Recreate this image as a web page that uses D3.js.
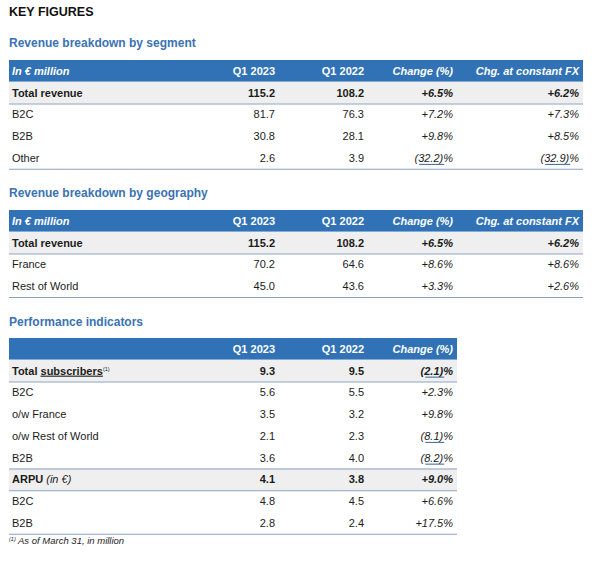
<!DOCTYPE html>
<html>
<head>
<meta charset="utf-8">
<script src="https://cdn.jsdelivr.net/npm/d3@7"></script>
<style>
  html, body { margin: 0; padding: 0; background: #fff; }
  svg { display: block; font-family: "Liberation Sans", Arial, Helvetica, sans-serif; }
</style>
</head>
<body>
<svg id="chart" width="594" height="565"></svg>
<script>
// ---------- DATA ----------
const pageTitle = "KEY FIGURES";
const sectionTitles = ["Revenue breakdown by segment", "Revenue breakdown by geography", "Performance indicators"];
const columnHeaders = ["In € million", "Q1 2023", "Q1 2022", "Change (%)", "Chg. at constant FX"];
const kpiColumnHeaders = ["", "Q1 2023", "Q1 2022", "Change (%)"];

const segCategories = ["Total revenue", "B2C", "B2B", "Other"];
const segQ12023 = [115.2, 81.7, 30.8, 2.6];
const segQ12022 = [108.2, 76.3, 28.1, 3.9];
const segChange = [6.5, 7.2, 9.8, -32.2];
const segChangeFX = [6.2, 7.3, 8.5, -32.9];

const geoCategories = ["Total revenue", "France", "Rest of World"];
const geoQ12023 = [115.2, 70.2, 45.0];
const geoQ12022 = [108.2, 64.6, 43.6];
const geoChange = [6.5, 8.6, 3.3];
const geoChangeFX = [6.2, 8.6, 2.6];

const kpiCategories = ["Total subscribers", "B2C", "o/w France", "o/w Rest of World", "B2B", "ARPU", "B2C", "B2B"];
const kpiQ12023 = [9.3, 5.6, 3.5, 2.1, 3.6, 4.1, 4.8, 2.8];
const kpiQ12022 = [9.5, 5.5, 3.2, 2.3, 4.0, 3.8, 4.5, 2.4];
const kpiChange = [-2.1, 2.3, 9.8, -8.1, -8.2, 9.0, 6.6, 17.5];
const kpiHighlight = [true, false, false, false, false, true, false, false];
const footnote = "As of March 31, in million";

// ---------- STYLE ----------
const HEADER_BLUE = "#3171b6";
const TITLE_BLUE = "#3a72b3";
const GRAY = "#efefef";
const LINE = "#8aa2bf";
const TEXT = "#1b1b1b";
const UNDER = "#35639a";
const FS = 11;

const svg = d3.select("#chart");
const fmtNum = d3.format(".1f");

svg.append("text").attr("x", 9).attr("y", 15.5)
  .attr("font-size", 12.5).attr("font-weight", "bold").attr("fill", "#111")
  .text(pageTitle);

function pctParts(v) {
  if (v < 0) return { pre: "(", num: fmtNum(-v), post: ")%", neg: true };
  return { pre: "+", num: fmtNum(v), post: "%", neg: false };
}

function drawPct(g, x, y, v, bold) {
  const p = pctParts(v);
  const t = g.append("text").attr("x", x).attr("y", y).attr("text-anchor", "end")
    .attr("font-size", FS).attr("font-style", "italic")
    .attr("font-weight", bold ? "bold" : "normal").attr("fill", TEXT)
    .text(p.pre + p.num + p.post);
  if (p.neg) {
    const node = t.node();
    const bb = node.getBBox();
    const s0 = node.getSubStringLength(0, 1);
    const s1 = node.getSubStringLength(1, p.num.length + 1);
    g.append("line")
      .attr("x1", bb.x + s0 + 1).attr("x2", bb.x + s0 + s1 + 1)
      .attr("y1", y + 2.5).attr("y2", y + 2.5)
      .attr("stroke", UNDER).attr("stroke-width", 1);
  }
}

function drawTable(cfg) {
  const g = svg.append("g");
  g.append("text").attr("x", 9).attr("y", cfg.titleY + 4)
    .attr("font-size", 12).attr("font-weight", "bold").attr("fill", TITLE_BLUE)
    .text(cfg.title);

  const n = cfg.categories.length;
  const y = d3.scaleBand().domain(d3.range(n + 1))
    .range([cfg.top, cfg.top + (n + 1) * 21.75]).paddingInner(0).paddingOuter(0);
  const cols = cfg.headers.map((d, i) => i);
  const x = d3.scaleOrdinal().domain(cols).range(cfg.colRight);
  const left = 9, right = cfg.right;

  g.append("rect").attr("x", left).attr("y", y(0)).attr("width", right - left).attr("height", y.bandwidth())
    .attr("fill", HEADER_BLUE);
  cfg.headers.forEach((h, i) => {
    const italic = i === 0 || i >= 3;
    g.append("text")
      .attr("x", i === 0 ? 12 : x(i)).attr("y", y(0) + y.bandwidth() / 2 + 4)
      .attr("text-anchor", i === 0 ? "start" : "end")
      .attr("font-size", FS).attr("font-weight", "bold")
      .attr("font-style", italic ? "italic" : "normal").attr("fill", "#fff")
      .text(h);
  });

  cfg.categories.forEach((c, r) => {
    const ry = y(r + 1);
    if (cfg.highlight[r]) {
      g.append("rect").attr("x", left).attr("y", ry).attr("width", right - left).attr("height", y.bandwidth())
        .attr("fill", GRAY);
      if (r > 0) g.append("line").attr("x1", left).attr("x2", right).attr("y1", ry + 0.5).attr("y2", ry + 0.5)
        .attr("stroke", LINE).attr("stroke-width", 1.2);
      g.append("line").attr("x1", left).attr("x2", right)
        .attr("y1", ry + y.bandwidth() + 0.5).attr("y2", ry + y.bandwidth() + 0.5)
        .attr("stroke", LINE).attr("stroke-width", 1.2);
    }
  });
  g.append("line").attr("x1", left).attr("x2", right)
    .attr("y1", y(n) + y.bandwidth() + 0.5).attr("y2", y(n) + y.bandwidth() + 0.5)
    .attr("stroke", LINE).attr("stroke-width", 1.2);

  cfg.categories.forEach((c, r) => {
    const bold = cfg.highlight[r];
    const ty = y(r + 1) + y.bandwidth() / 2 + 4;
    const lab = g.append("text").attr("x", 12).attr("y", ty)
      .attr("font-size", FS).attr("fill", TEXT);
    if (cfg.labelFn) cfg.labelFn(lab, c, r);
    else lab.attr("font-weight", bold ? "bold" : "normal").text(c);

    g.append("text").attr("x", x(1)).attr("y", ty).attr("text-anchor", "end")
      .attr("font-size", FS).attr("font-weight", bold ? "bold" : "normal").attr("fill", TEXT)
      .text(fmtNum(cfg.q23[r]));
    g.append("text").attr("x", x(2)).attr("y", ty).attr("text-anchor", "end")
      .attr("font-size", FS).attr("font-weight", bold ? "bold" : "normal").attr("fill", TEXT)
      .text(fmtNum(cfg.q22[r]));
    drawPct(g, x(3), ty, cfg.chg[r], bold);
    if (cfg.chgFX) drawPct(g, x(4), ty, cfg.chgFX[r], bold);
  });
  return y;
}

drawTable({
  title: sectionTitles[0], titleY: 43, top: 60, right: 583,
  headers: columnHeaders, colRight: [12, 275, 364, 453, 579],
  categories: segCategories, q23: segQ12023, q22: segQ12022, chg: segChange, chgFX: segChangeFX,
  highlight: segCategories.map((d, i) => i === 0)
});

drawTable({
  title: sectionTitles[1], titleY: 193, top: 210, right: 583,
  headers: columnHeaders, colRight: [12, 275, 364, 453, 579],
  categories: geoCategories, q23: geoQ12023, q22: geoQ12022, chg: geoChange, chgFX: geoChangeFX,
  highlight: geoCategories.map((d, i) => i === 0)
});

drawTable({
  title: sectionTitles[2], titleY: 322, top: 338, right: 457,
  headers: kpiColumnHeaders, colRight: [12, 275, 364, 453],
  categories: kpiCategories, q23: kpiQ12023, q22: kpiQ12022, chg: kpiChange,
  highlight: kpiHighlight,
  labelFn: (sel, c, r) => {
    if (r === 0) {
      sel.attr("font-weight", "bold");
      sel.append("tspan").text("Total ");
      sel.append("tspan").attr("text-decoration", "underline").text("subscribers");
      sel.append("tspan").attr("font-size", 5.5).attr("font-weight", "normal").attr("dy", -4).text("(1)");
    } else if (r === 5) {
      sel.append("tspan").attr("font-weight", "bold").text(c);
      sel.append("tspan").attr("font-style", "italic").text(" (in €)");
    } else {
      sel.text(c);
    }
  }
});

const fn = svg.append("text").attr("x", 9).attr("y", 544).attr("fill", TEXT).attr("font-style", "italic");
fn.append("tspan").attr("font-size", 5.5).attr("dy", -3).text("(1)");
fn.append("tspan").attr("font-size", 9.5).attr("dy", 3).text(" " + footnote);
</script>
</body>
</html>
